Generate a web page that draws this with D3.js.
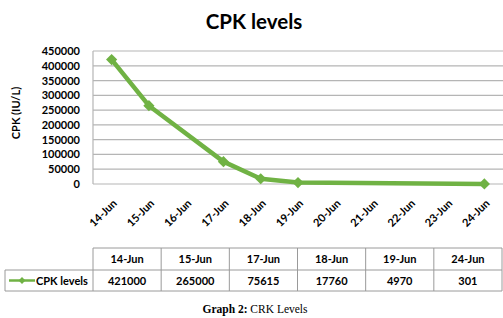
<!DOCTYPE html>
<html>
<head>
<meta charset="utf-8">
<script src="https://cdn.jsdelivr.net/npm/d3@7"></script>
<style>
  html, body { margin: 0; padding: 0; background: #fff; }
  text { font-family: Lato, "Open Sans", sans-serif; }
</style>
</head>
<body>
<div id="chart"></div>
<script>
// ---- data ----
const axisDays = ['14-Jun', '15-Jun', '16-Jun', '17-Jun', '18-Jun', '19-Jun',
                  '20-Jun', '21-Jun', '22-Jun', '23-Jun', '24-Jun'];
const sampleDays = ['14-Jun', '15-Jun', '17-Jun', '18-Jun', '19-Jun', '24-Jun'];
const cpkValues = [421000, 265000, 75615, 17760, 4970, 301];
const yTicks = [0, 50000, 100000, 150000, 200000, 250000, 300000, 350000, 400000, 450000];
const seriesName = 'CPK levels';

// ---- canvas ----
const svgWidth = 503;
const svgHeight = 318;
const green = '#70b244';
const gridGrey = '#b5b5b5';

const svg = d3.select('#chart')
  .append('svg')
  .attr('width', svgWidth)
  .attr('height', svgHeight);

// plot area edges
const plotLeft = 93, plotRight = 503, plotTop = 51, plotBottom = 184;

const x = d3.scaleBand().domain(axisDays).range([plotLeft, plotRight]);
const xc = d => x(d) + x.bandwidth() / 2;
const y = d3.scaleLinear().domain([0, 450000]).range([plotBottom, plotTop]);

// title
svg.append('text')
  .attr('x', 254).attr('y', 29)
  .attr('text-anchor', 'middle')
  .style('font-size', '20.5px').style('font-weight', 'bold')
  .text('CPK levels');

// gridlines
svg.append('g')
  .selectAll('line')
  .data(yTicks)
  .join('line')
  .attr('x1', plotLeft).attr('x2', plotRight)
  .attr('y1', d => y(d)).attr('y2', d => y(d))
  .attr('stroke', gridGrey).attr('stroke-width', 1.2);

// left axis line
svg.append('line')
  .attr('x1', plotLeft).attr('x2', plotLeft)
  .attr('y1', plotTop).attr('y2', plotBottom)
  .attr('stroke', gridGrey).attr('stroke-width', 1.2);

// y axis labels
const yAxis = d3.axisLeft(y).tickValues(yTicks).tickSize(0).tickPadding(13)
  .tickFormat(d3.format('d'));
svg.append('g')
  .attr('transform', `translate(${plotLeft},0)`)
  .call(yAxis)
  .call(g => g.select('.domain').remove())
  .selectAll('text')
  .style('font-family', 'Lato, sans-serif')
  .style('font-size', '11px').style('font-weight', 'bold')
  .attr('fill', '#000');

// y title
svg.append('text')
  .attr('transform', 'translate(20,113) rotate(-90)')
  .attr('text-anchor', 'middle')
  .style('font-size', '11px').style('font-weight', 'bold')
  .text('CPK (IU/L)');

// x labels
svg.append('g')
  .selectAll('text')
  .data(axisDays)
  .join('text')
  .attr('transform', d => `translate(${xc(d) + 6},204) rotate(-45)`)
  .attr('text-anchor', 'end')
  .style('font-size', '11px').style('font-weight', 'bold')
  .text(d => d);

// series line
const points = sampleDays.map((d, i) => ({ day: d, value: cpkValues[i] }));
svg.append('path')
  .datum(points)
  .attr('d', d3.line().x(d => xc(d.day)).y(d => y(d.value)))
  .attr('fill', 'none')
  .attr('stroke', green)
  .attr('stroke-width', 4.5)
  .attr('stroke-linejoin', 'round');

const diamond = d3.symbol().type(d3.symbolDiamond2).size(80);
svg.append('g')
  .selectAll('path')
  .data(points)
  .join('path')
  .attr('transform', d => `translate(${xc(d.day)},${y(d.value)})`)
  .attr('d', diamond)
  .attr('fill', green);

// ---- data table ----
const col = d3.scaleBand().domain(sampleDays).range([plotLeft, 502]);
const rowTop = 248, rowMid = 270, rowBottom = 291, tableLeft = 5;
const border = '#9a9a9a';
const table = svg.append('g').attr('stroke', border).attr('stroke-width', 1);

table.append('line').attr('x1', plotLeft).attr('x2', 502).attr('y1', rowTop).attr('y2', rowTop);
table.append('line').attr('x1', tableLeft).attr('x2', 502).attr('y1', rowMid).attr('y2', rowMid);
table.append('line').attr('x1', tableLeft).attr('x2', 502).attr('y1', rowBottom).attr('y2', rowBottom);
table.append('line').attr('x1', tableLeft).attr('x2', tableLeft).attr('y1', rowMid).attr('y2', rowBottom);
table.selectAll('line.v')
  .data(sampleDays.concat(['end']))
  .join('line')
  .attr('class', 'v')
  .attr('x1', d => d === 'end' ? 502 : col(d))
  .attr('x2', d => d === 'end' ? 502 : col(d))
  .attr('y1', rowTop).attr('y2', rowBottom);

svg.append('g')
  .selectAll('text')
  .data(sampleDays)
  .join('text')
  .attr('x', d => col(d) + col.bandwidth() / 2)
  .attr('y', 263)
  .attr('text-anchor', 'middle')
  .style('font-size', '11px').style('font-weight', 'bold')
  .text(d => d);

svg.append('g')
  .selectAll('text')
  .data(points)
  .join('text')
  .attr('x', d => col(d.day) + col.bandwidth() / 2)
  .attr('y', 284.5)
  .attr('text-anchor', 'middle')
  .style('font-size', '11px').style('font-weight', 'bold')
  .text(d => d.value);

// legend key in table
svg.append('line')
  .attr('x1', 9).attr('x2', 35).attr('y1', 280.5).attr('y2', 280.5)
  .attr('stroke', green).attr('stroke-width', 2.5);
svg.append('path')
  .attr('transform', 'translate(22,280.5)')
  .attr('d', d3.symbol().type(d3.symbolDiamond2).size(30))
  .attr('fill', green);
svg.append('text')
  .attr('x', 36).attr('y', 284.5)
  .style('font-size', '11px').style('font-weight', 'bold')
  .text(seriesName);

// caption
const cap = svg.append('text')
  .attr('x', 255).attr('y', 313)
  .attr('text-anchor', 'middle')
  .style('font-family', '"Liberation Serif", "DejaVu Serif", serif')
  .style('font-size', '11.5px');
cap.append('tspan').style('font-weight', 'bold').style('font-family', '"Liberation Serif", serif').text('Graph 2:');
cap.append('tspan').style('font-family', '"Liberation Serif", serif').text(' CRK Levels');
</script>
</body>
</html>
